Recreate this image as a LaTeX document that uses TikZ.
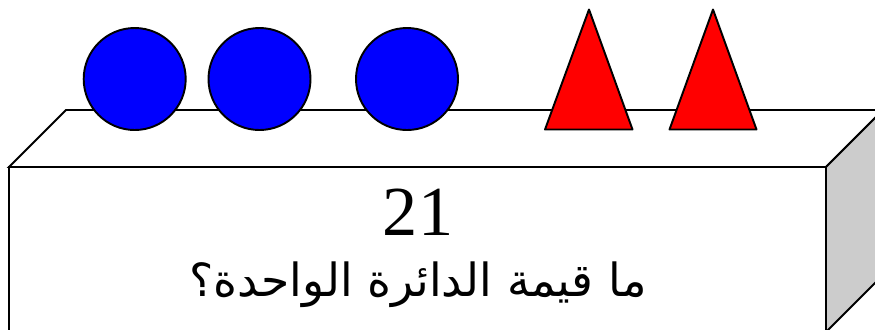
\documentclass[tikz,border=0pt]{standalone}
\usepackage{fontspec}
\setmainfont{Liberation Serif}
\newfontfamily\arabicfont[Script=Arabic]{DejaVu Sans}
\TeXXeTstate=1
\usetikzlibrary{positioning}

\begin{document}
\begin{tikzpicture}[
    x=0.02cm, y=-0.02cm,
    edge/.style={draw=black, line width=1.1pt, line join=miter},
    ball/.style={edge, fill=blue},
    cone/.style={edge, fill=red, line join=round},
]
\useasboundingbox (0,0) rectangle (875,329);

% Box: top face, side face, front face
\begin{scope}
\clip (0,0) rectangle (875,329);
\draw[edge, fill=white] (9,167) -- (66,110) -- (883,110) -- (826,167) -- cycle;
\draw[edge, fill=black!20] (826,167) -- (883,110) -- (883,275) -- (826,332) -- cycle;
\draw[edge, fill=white] (9,167) rectangle (826,332);
\end{scope}

% Circles
\foreach \cx in {134.7, 259.5, 407}
    \draw[ball] (\cx,79) circle[radius=51];

% Triangles
\draw[cone] (589,9.5) -- (632.5,129.5) -- (545,129.5) -- cycle;
\draw[cone] (713,9.5) -- (756.5,129.5) -- (669.5,129.5) -- cycle;

% Labels
\node[font=\fontsize{40}{44}\selectfont, inner sep=0pt] (num) at (418,212) {21};
\node[font=\arabicfont\fontsize{26}{30}\selectfont, inner sep=0pt, below=14.7pt of num] (question) {\beginR ما قيمة الدائرة الواحدة؟\endR};

\end{tikzpicture}
\end{document}
